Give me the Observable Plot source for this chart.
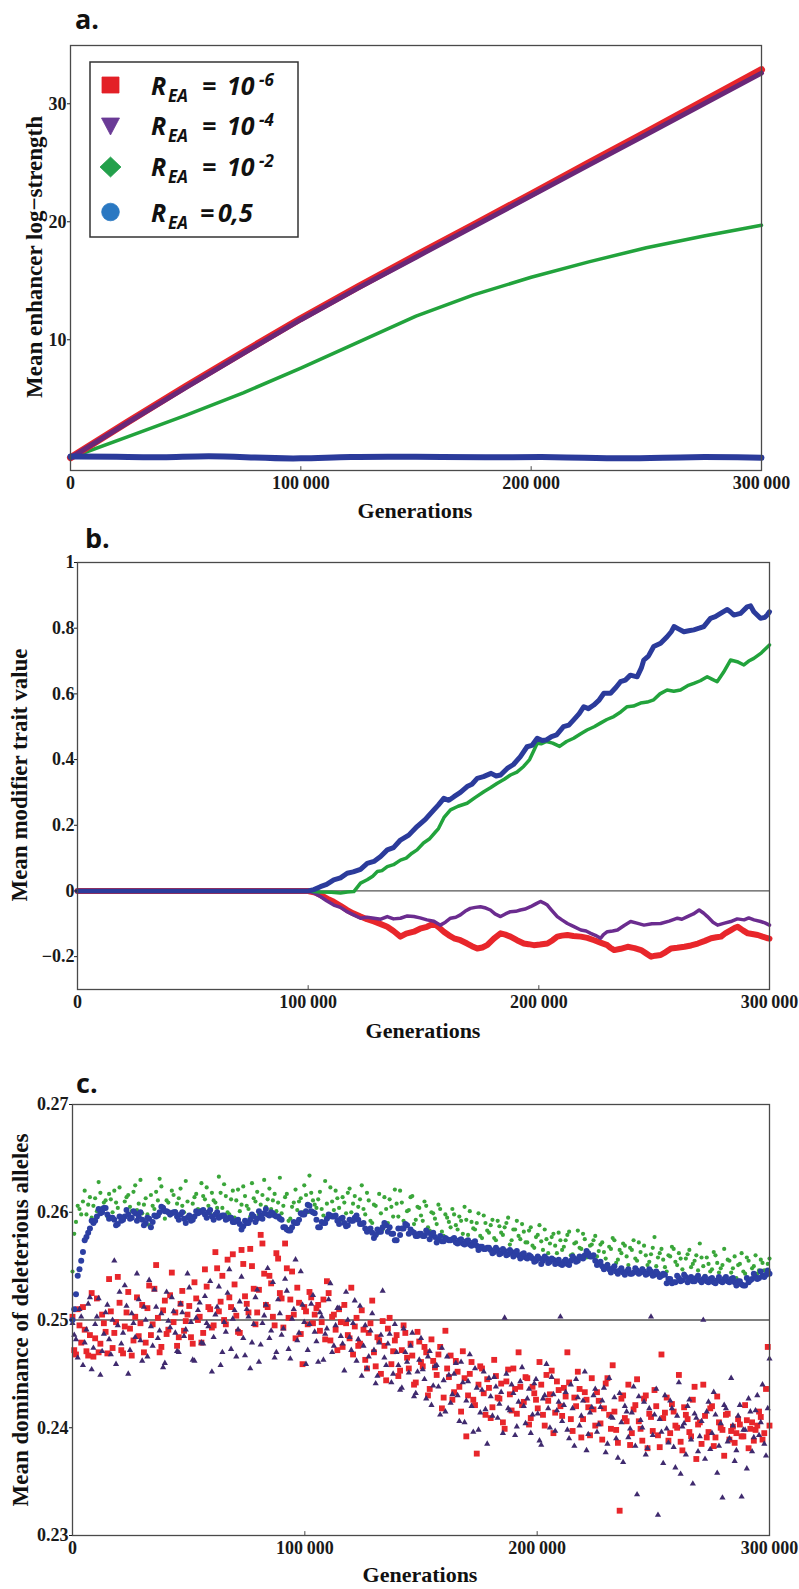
<!DOCTYPE html>
<html>
<head>
<meta charset="utf-8">
<script src="https://cdn.jsdelivr.net/npm/d3@7"></script>
<script src="https://cdn.jsdelivr.net/npm/@observablehq/plot@0.6"></script>
<style>
  body { margin: 0; background: #fff; }
  #page { position: relative; width: 799px; height: 1589px; overflow: hidden; background: #fff; }
  .panel { position: absolute; left: 0; }
  #overlay { position: absolute; left: 0; top: 0; pointer-events: none; }
</style>
</head>
<body>
<div id="page"></div>
<script>
// ---------- colours ----------
const RED = "#e8262b", PURPLE = "#6b2c8f", GREEN = "#22a33c", BLUE = "#2b3b9b";

// ---------- panel a: mean enhancer log-strength ----------
const genA = [0, 25000, 50000, 75000, 100000, 125000, 150000, 175000, 200000, 225000, 250000, 275000, 300000];
const strengthRed    = [0, 3.05, 6.05, 8.95, 11.8, 14.5, 17.15, 19.75, 22.35, 25.0, 27.6, 30.25, 32.9];
const strengthPurple = [0, 3.0, 5.95, 8.85, 11.7, 14.4, 17.0, 19.6, 22.2, 24.8, 27.4, 30.0, 32.6];
const strengthGreen  = [0, 1.8, 3.6, 5.5, 7.6, 9.8, 12.0, 13.8, 15.3, 16.6, 17.8, 18.8, 19.7];
const genABlue       = [0, 20000, 40000, 60000, 80000, 100000, 120000, 150000, 180000, 210000, 240000, 270000, 300000];
const strengthBlue   = [0.1, 0.1, 0.0, 0.2, 0.0, -0.1, 0.1, 0.1, 0.0, 0.1, -0.1, 0.1, 0.0];

// ---------- panel b: mean modifier trait value ----------
const genBBlue = [0,100000,102500,105300,108000,111100,114000,116900,119500,122700,125600,128500,131400,134300,137000,140000,143600,147200,150800,154500,156500,158800,161000,163200,166000,168900,171000,173300,176000,179300,181500,183400,186300,189000,192000,194900,197000,199300,201500,203300,205500,207700,210700,213000,215100,217500,219500,221500,223800,226000,228200,231100,233500,235400,237500,239700,242600,244500,245500,247500,249800,252800,255600,257500,258600,260500,262900,265000,267200,269500,271500,274400,276500,278800,281700,283000,284500,287400,290300,291800,293200,296100,298000,299000,300000];
const modBlue  = [0,0,0.004,0.013,0.020,0.034,0.040,0.054,0.058,0.066,0.084,0.090,0.105,0.125,0.132,0.155,0.170,0.196,0.218,0.247,0.262,0.282,0.276,0.287,0.300,0.318,0.325,0.343,0.348,0.358,0.350,0.353,0.373,0.385,0.409,0.439,0.443,0.465,0.458,0.460,0.470,0.475,0.500,0.505,0.521,0.540,0.561,0.555,0.566,0.580,0.602,0.602,0.620,0.637,0.642,0.657,0.652,0.680,0.703,0.715,0.744,0.754,0.774,0.790,0.805,0.798,0.789,0.792,0.795,0.800,0.805,0.830,0.835,0.845,0.857,0.850,0.840,0.845,0.865,0.868,0.850,0.830,0.833,0.840,0.850];

const genBGreen = [0,100000,105000,110000,114000,117000,119800,122700,125600,128000,130000,132000,134300,137000,140000,142500,145000,147200,150000,152500,155000,156500,159000,161700,165000,168900,172500,176300,179000,182000,185000,187700,190500,193400,196000,198000,199300,201000,203300,206000,209000,212000,215100,218000,220900,224000,226700,229500,232500,235500,238300,241000,244100,247000,249800,252500,255600,258500,261400,264500,267200,270000,273000,275000,277300,280000,283100,286000,288900,291000,293200,296500,300000];
const modGreen  = [0,0,-0.003,-0.004,-0.006,-0.003,-0.002,0.024,0.034,0.045,0.059,0.062,0.074,0.080,0.094,0.100,0.115,0.125,0.146,0.158,0.178,0.190,0.225,0.247,0.258,0.267,0.285,0.303,0.314,0.328,0.340,0.353,0.362,0.379,0.400,0.430,0.450,0.448,0.455,0.450,0.440,0.455,0.465,0.478,0.490,0.500,0.511,0.522,0.531,0.545,0.561,0.563,0.572,0.575,0.582,0.600,0.612,0.608,0.612,0.625,0.632,0.640,0.652,0.645,0.637,0.665,0.703,0.698,0.688,0.700,0.708,0.725,0.749];

const genBPurple = [0,100000,102500,105300,108000,111100,114000,116900,119500,122700,125500,128500,131500,134300,137000,140000,143000,145800,148500,151500,154500,157300,159500,161700,164000,166000,168000,170300,172500,174700,177000,179000,181000,183400,185500,187700,190000,192000,194000,196400,198500,200700,202000,203700,205500,208000,210000,212400,215000,218200,220500,222500,224500,226800,228000,229700,232000,234100,237000,239800,242500,245600,249000,252800,256500,260100,262000,264400,267000,269500,271500,273100,275500,277500,280500,283200,286000,289000,291000,293300,296200,298000,300000];
const modPurple  = [0,0,-0.006,-0.017,-0.030,-0.043,-0.050,-0.063,-0.072,-0.083,-0.080,-0.083,-0.086,-0.078,-0.085,-0.083,-0.076,-0.078,-0.082,-0.088,-0.092,-0.104,-0.095,-0.083,-0.080,-0.073,-0.062,-0.053,-0.050,-0.048,-0.052,-0.058,-0.070,-0.078,-0.070,-0.063,-0.062,-0.058,-0.055,-0.048,-0.040,-0.032,-0.036,-0.043,-0.058,-0.078,-0.088,-0.099,-0.108,-0.119,-0.122,-0.129,-0.135,-0.144,-0.133,-0.124,-0.122,-0.119,-0.105,-0.093,-0.098,-0.104,-0.100,-0.099,-0.092,-0.083,-0.086,-0.078,-0.070,-0.058,-0.068,-0.078,-0.095,-0.104,-0.098,-0.093,-0.085,-0.088,-0.082,-0.088,-0.093,-0.097,-0.104];

const genBRed = [0,100000,103000,106700,109000,111100,114000,116900,119500,122700,125500,128500,131500,134300,137000,140000,142500,145800,148500,151500,154500,156500,158800,161000,163200,166000,168900,171000,173300,175500,177600,180500,183400,185500,187700,190500,193500,195500,197800,200500,203700,206000,208000,210000,212400,215000,218200,221000,224000,227000,229700,231000,232700,235500,238500,241500,244300,246500,248700,250500,252800,255000,257300,260000,263100,266000,268900,272000,274700,277000,279000,281000,283300,285000,286200,288500,290600,292500,294900,297000,299300,300000];
const modRed  = [0,0,-0.005,-0.017,-0.026,-0.033,-0.045,-0.058,-0.068,-0.078,-0.086,-0.093,-0.101,-0.109,-0.122,-0.139,-0.130,-0.124,-0.115,-0.109,-0.099,-0.110,-0.124,-0.135,-0.144,-0.150,-0.160,-0.168,-0.175,-0.172,-0.165,-0.145,-0.129,-0.133,-0.139,-0.150,-0.160,-0.162,-0.165,-0.163,-0.160,-0.150,-0.139,-0.136,-0.134,-0.137,-0.139,-0.143,-0.150,-0.158,-0.165,-0.173,-0.180,-0.176,-0.170,-0.174,-0.180,-0.190,-0.200,-0.197,-0.195,-0.186,-0.175,-0.173,-0.170,-0.166,-0.160,-0.152,-0.144,-0.141,-0.139,-0.128,-0.119,-0.112,-0.109,-0.120,-0.129,-0.131,-0.134,-0.139,-0.144,-0.145];

// ---------- panel c: mean dominance of deleterious alleles ----------
// recorded every 1 500 generations from 0 (first run) and from 750 (second record)
const sampleStep = 1500;
const sampleOffset = 750;
const domBlue = [.2500,.2524,.2547,.2563,.2577,.2585,.2590,.2596,.2599,.2604,.2598,.2595,.2593,.2589,.2592,.2596,.2598,.2595,.2599,.2596,.2593,.2590,.2594,.2591,.2596,.2600,.2604,.2601,.2598,.2600,.2596,.2598,.2594,.2595,.2592,.2596,.2599,.2601,.2598,.2600,.2596,.2598,.2595,.2597,.2593,.2595,.2591,.2592,.2589,.2587,.2590,.2593,.2596,.2594,.2597,.2599,.2598,.2600,.2597,.2596,.2593,.2586,.2583,.2586,.2590,.2593,.2598,.2601,.2606,.2600,.2593,.2586,.2590,.2594,.2597,.2596,.2592,.2594,.2590,.2588,.2592,.2595,.2593,.2589,.2585,.2583,.2581,.2579,.2582,.2586,.2588,.2586,.2580,.2574,.2579,.2585,.2588,.2584,.2581,.2578,.2580,.2578,.2581,.2579,.2577,.2575,.2573,.2576,.2574,.2575,.2572,.2574,.2571,.2573,.2570,.2572,.2569,.2568,.2566,.2567,.2565,.2563,.2565,.2562,.2564,.2561,.2563,.2562,.2560,.2561,.2558,.2560,.2557,.2555,.2557,.2555,.2557,.2554,.2556,.2553,.2552,.2554,.2552,.2555,.2557,.2555,.2558,.2560,.2562,.2559,.2555,.2552,.2550,.2549,.2547,.2548,.2545,.2546,.2544,.2545,.2543,.2544,.2546,.2544,.2545,.2543,.2545,.2542,.2543,.2541,.2542,.2538,.2534,.2535,.2539,.2537,.2540,.2538,.2536,.2539,.2537,.2538,.2536,.2538,.2535,.2537,.2536,.2538,.2536,.2538,.2535,.2536,.2533,.2532,.2535,.2538,.2540,.2539,.2541,.2542,.2543];
const domBlue2 = [.2510,.2541,.2555,.2574,.2581,.2592,.2592,.2603,.2600,.2604,
  .2594,.2595,.2588,.2596,.2593,.2602,.2594,.2601,.2592,.2600,
  .2588,.2595,.2586,.2597,.2597,.2605,.2601,.2600,.2599,.2600,
  .2593,.2600,.2590,.2597,.2593,.2601,.2600,.2602,.2595,.2602,
  .2593,.2600,.2596,.2597,.2594,.2595,.2591,.2593,.2584,.2592,
  .2590,.2598,.2591,.2601,.2594,.2603,.2597,.2599,.2596,.2594,
  .2586,.2584,.2583,.2591,.2590,.2599,.2598,.2607,.2601,.2599,
  .2586,.2591,.2590,.2598,.2596,.2597,.2589,.2595,.2587,.2593,
  .2592,.2597,.2589,.2590,.2582,.2585,.2576,.2584,.2582,.2590,
  .2582,.2580,.2574,.2585,.2585,.2589,.2580,.2582,.2578,.2580,
  .2578,.2583,.2575,.2581,.2572,.2578,.2573,.2575,.2574,.2576,
  .2571,.2575,.2570,.2574,.2569,.2573,.2565,.2568,.2566,.2567,
  .2562,.2567,.2561,.2566,.2560,.2565,.2559,.2564,.2557,.2562,
  .2557,.2559,.2554,.2559,.2552,.2559,.2553,.2557,.2552,.2556,
  .2551,.2556,.2551,.2559,.2554,.2559,.2557,.2564,.2559,.2560,
  .2551,.2554,.2547,.2551,.2544,.2550,.2543,.2548,.2542,.2547,
  .2543,.2548,.2543,.2547,.2542,.2547,.2541,.2545,.2540,.2543,
  .2534,.2538,.2535,.2541,.2536,.2542,.2535,.2540,.2536,.2541,
  .2535,.2540,.2535,.2539,.2534,.2540,.2535,.2540,.2535,.2539,
  .2532,.2536,.2532,.2539,.2537,.2543,.2538,.2545,.2540,.2546];
const domGreen = [.2545,.2591,.2603,.2610,.2598,.2614,.2606,.2601,.2618,.2609,.2596,
  .2612,.2620,.2604,.2592,.2610,.2616,.2601,.2625,.2608,.2599,
  .2613,.2588,.2606,.2619,.2631,.2605,.2611,.2597,.2616,.2608,
  .2622,.2600,.2610,.2593,.2614,.2603,.2627,.2612,.2606,.2618,
  .2609,.2633,.2604,.2615,.2598,.2620,.2611,.2601,.2624,.2606,
  .2596,.2613,.2619,.2607,.2630,.2612,.2603,.2617,.2609,.2599,
  .2614,.2592,.2605,.2621,.2610,.2600,.2616,.2634,.2611,.2604,
  .2619,.2597,.2608,.2623,.2602,.2613,.2593,.2609,.2618,.2600,
  .2615,.2605,.2625,.2598,.2611,.2590,.2606,.2617,.2584,.2603,
  .2612,.2596,.2608,.2620,.2592,.2601,.2614,.2589,.2605,.2597,
  .2610,.2586,.2600,.2594,.2607,.2582,.2598,.2591,.2603,.2588,
  .2596,.2580,.2593,.2601,.2585,.2590,.2578,.2597,.2583,.2588,
  .2576,.2592,.2581,.2586,.2595,.2574,.2584,.2578,.2589,.2572,
  .2583,.2569,.2577,.2588,.2565,.2575,.2571,.2580,.2562,.2574,
  .2568,.2579,.2560,.2571,.2583,.2566,.2575,.2562,.2570,.2578,
  .2564,.2572,.2557,.2568,.2576,.2553,.2565,.2571,.2559,.2567,
  .2574,.2555,.2563,.2569,.2551,.2561,.2577,.2558,.2566,.2549,
  .2560,.2568,.2554,.2562,.2547,.2557,.2565,.2552,.2560,.2571,
  .2550,.2558,.2545,.2563,.2553,.2548,.2566,.2556,.2544,.2559,
  .2551,.2562,.2543,.2555,.2548,.2560,.2546,.2553,.2541,.2557];
const domGreen2 = [.2580,.2606,.2598,.2620,.2607,.2595,.2613,.2628,.2604,.2611,
  .2617,.2600,.2609,.2623,.2596,.2614,.2605,.2619,.2602,.2630,
  .2607,.2598,.2616,.2603,.2611,.2624,.2594,.2609,.2620,.2601,
  .2613,.2606,.2629,.2597,.2608,.2617,.2602,.2615,.2623,.2599,
  .2611,.2604,.2618,.2626,.2600,.2612,.2595,.2621,.2607,.2615,
  .2603,.2627,.2610,.2598,.2616,.2605,.2622,.2611,.2601,.2632,
  .2606,.2617,.2594,.2609,.2602,.2613,.2625,.2600,.2618,.2607,
  .2612,.2603,.2629,.2595,.2610,.2620,.2604,.2614,.2599,.2622,
  .2608,.2596,.2612,.2603,.2618,.2592,.2607,.2580,.2599,.2614,
  .2590,.2605,.2621,.2596,.2609,.2587,.2602,.2615,.2593,.2604,
  .2592,.2606,.2583,.2599,.2589,.2603,.2578,.2595,.2586,.2598,
  .2584,.2592,.2605,.2579,.2591,.2584,.2599,.2576,.2590,.2581,
  .2593,.2574,.2587,.2579,.2590,.2570,.2584,.2592,.2575,.2582,
  .2572,.2586,.2567,.2579,.2573,.2584,.2562,.2577,.2569,.2581,
  .2565,.2574,.2582,.2561,.2572,.2567,.2580,.2558,.2569,.2574,
  .2559,.2570,.2563,.2552,.2566,.2574,.2556,.2562,.2569,.2551,
  .2565,.2557,.2572,.2548,.2560,.2554,.2567,.2550,.2562,.2556,
  .2545,.2559,.2566,.2551,.2557,.2543,.2561,.2549,.2555,.2546,
  .2558,.2541,.2552,.2547,.2560,.2544,.2551,.2538,.2555,.2548,
  .2539,.2552,.2545,.2558,.2537,.2550,.2543,.2556,.2546,.2552];
const domRed = [.2503,.2468,.2495,.2512,.2471,.2486,.2466,.2520,.2478,.2497,.2469,
  .2508,.2488,.2540,.2472,.2494,.2526,.2467,.2503,.2485,.2514,
  .2479,.2532,.2496,.2551,.2470,.2509,.2487,.2523,.2498,.2476,
  .2515,.2490,.2505,.2484,.2535,.2500,.2479,.2547,.2512,.2493,
  .2563,.2508,.2541,.2496,.2521,.2561,.2504,.2488,.2552,.2515,
  .2566,.2529,.2507,.2579,.2543,.2512,.2534,.2495,.2557,.2520,
  .2571,.2502,.2545,.2483,.2516,.2459,.2508,.2526,.2497,.2511,
  .2490,.2519,.2536,.2481,.2505,.2472,.2498,.2514,.2486,.2530,
  .2494,.2476,.2509,.2463,.2488,.2518,.2457,.2481,.2499,.2444,
  .2502,.2471,.2486,.2453,.2495,.2465,.2478,.2440,.2489,.2461,
  .2475,.2430,.2482,.2456,.2468,.2418,.2490,.2447,.2426,.2462,
  .2438,.2471,.2392,.2450,.2426,.2376,.2457,.2432,.2445,.2409,
  .2463,.2428,.2441,.2399,.2454,.2416,.2436,.2470,.2421,.2447,
  .2403,.2438,.2426,.2461,.2412,.2449,.2431,.2395,.2443,.2420,
  .2437,.2470,.2408,.2428,.2452,.2391,.2433,.2419,.2446,.2402,
  .2425,.2389,.2441,.2412,.2458,.2398,.2323,.2430,.2406,.2384,
  .2417,.2445,.2399,.2427,.2381,.2410,.2435,.2393,.2468,.2414,
  .2388,.2422,.2402,.2449,.2379,.2412,.2396,.2426,.2371,.2405,
  .2440,.2391,.2418,.2383,.2429,.2400,.2374,.2413,.2397,.2386,
  .2408,.2392,.2421,.2381,.2405,.2398,.2415,.2389,.2436,.2402];
const domRed2 = [.2472,.2510,.2479,.2491,.2467,.2525,.2483,.2470,.2505,.2489,
  .2538,.2474,.2498,.2516,.2469,.2507,.2492,.2481,.2521,.2497,
  .2470,.2511,.2486,.2529,.2502,.2475,.2518,.2491,.2544,.2507,
  .2484,.2527,.2499,.2513,.2478,.2520,.2503,.2488,.2531,.2510,
  .2495,.2548,.2517,.2500,.2556,.2512,.2533,.2489,.2565,.2522,
  .2507,.2550,.2496,.2528,.2571,.2514,.2541,.2503,.2562,.2525,
  .2493,.2548,.2519,.2505,.2530,.2487,.2512,.2496,.2521,.2505,
  .2514,.2498,.2482,.2525,.2503,.2491,.2510,.2475,.2497,.2483,
  .2468,.2502,.2478,.2491,.2455,.2497,.2470,.2484,.2450,.2476,
  .2492,.2459,.2481,.2448,.2472,.2488,.2455,.2467,.2442,.2480,
  .2457,.2470,.2436,.2462,.2449,.2475,.2428,.2455,.2467,.2433,
  .2452,.2415,.2446,.2430,.2461,.2421,.2440,.2455,.2412,.2437,
  .2419,.2448,.2427,.2405,.2443,.2431,.2455,.2413,.2438,.2424,
  .2446,.2409,.2432,.2418,.2440,.2402,.2425,.2453,.2414,.2435,
  .2411,.2429,.2442,.2397,.2420,.2436,.2408,.2426,.2393,.2417,
  .2433,.2404,.2418,.2446,.2399,.2415,.2386,.2427,.2409,.2440,
  .2395,.2421,.2406,.2388,.2430,.2413,.2397,.2420,.2382,.2409,
  .2428,.2395,.2415,.2400,.2387,.2419,.2408,.2392,.2438,.2403,
  .2385,.2411,.2396,.2420,.2391,.2405,.2398,.2412,.2389,.2401,
  .2395,.2403,.2392,.2407,.2399,.2388,.2402,.2410,.2395,.2475];
const domPurple = [.2497,.2482,.2510,.2458,.2491,.2521,.2474,.2503,.2449,.2487,.2514,
  .2468,.2555,.2495,.2478,.2532,.2450,.2506,.2484,.2519,.2462,
  .2500,.2537,.2476,.2512,.2490,.2456,.2526,.2493,.2508,.2471,
  .2515,.2485,.2543,.2498,.2462,.2509,.2479,.2522,.2494,.2452,
  .2505,.2531,.2470,.2489,.2547,.2501,.2466,.2517,.2483,.2510,
  .2455,.2496,.2528,.2477,.2504,.2548,.2490,.2465,.2519,.2486,
  .2538,.2473,.2501,.2556,.2488,.2514,.2459,.2496,.2523,.2480,
  .2507,.2463,.2492,.2534,.2476,.2511,.2485,.2453,.2500,.2472,
  .2518,.2482,.2448,.2495,.2466,.2506,.2441,.2479,.2527,.2458,
  .2487,.2450,.2470,.2435,.2492,.2461,.2476,.2429,.2452,.2483,
  .2445,.2466,.2421,.2457,.2438,.2474,.2415,.2449,.2431,.2460,
  .2406,.2442,.2425,.2468,.2396,.2437,.2414,.2452,.2385,.2429,
  .2447,.2409,.2433,.2502,.2418,.2440,.2393,.2424,.2456,.2404,
  .2436,.2412,.2445,.2388,.2427,.2459,.2400,.2431,.2416,.2503,
  .2421,.2398,.2440,.2383,.2428,.2411,.2452,.2394,.2419,.2436,
  .2403,.2425,.2377,.2446,.2409,.2390,.2432,.2368,.2415,.2399,
  .2438,.2338,.2407,.2424,.2381,.2503,.2412,.2319,.2396,.2430,
  .2386,.2418,.2363,.2442,.2401,.2375,.2426,.2348,.2409,.2392,
  .2500,.2415,.2380,.2433,.2358,.2404,.2421,.2387,.2446,.2369,
  .2411,.2336,.2398,.2427,.2378,.2416,.2393,.2440,.2374,.2464];
const domPurple2 = [.2486,.2465,.2503,.2479,.2515,.2454,.2496,.2520,.2471,.2507,
  .2482,.2500,.2459,.2526,.2488,.2513,.2472,.2497,.2543,.2481,
  .2512,.2466,.2494,.2528,.2483,.2506,.2460,.2499,.2521,.2488,
  .2470,.2507,.2491,.2530,.2463,.2502,.2516,.2478,.2497,.2536,
  .2484,.2512,.2458,.2498,.2525,.2473,.2509,.2491,.2540,.2467,
  .2503,.2479,.2521,.2461,.2497,.2514,.2483,.2535,.2470,.2506,
  .2492,.2527,.2464,.2510,.2481,.2545,.2498,.2472,.2515,.2489,
  .2461,.2503,.2487,.2519,.2470,.2495,.2511,.2478,.2526,.2484,
  .2497,.2462,.2513,.2476,.2455,.2490,.2472,.2448,.2486,.2465,
  .2478,.2442,.2496,.2458,.2437,.2470,.2451,.2488,.2432,.2463,
  .2454,.2427,.2471,.2439,.2458,.2412,.2444,.2466,.2423,.2450,
  .2430,.2461,.2405,.2443,.2420,.2455,.2398,.2435,.2417,.2446,
  .2411,.2438,.2422,.2395,.2450,.2416,.2432,.2401,.2443,.2420,
  .2427,.2395,.2441,.2413,.2384,.2430,.2418,.2447,.2397,.2424,
  .2406,.2433,.2390,.2418,.2445,.2402,.2425,.2379,.2414,.2430,
  .2396,.2419,.2437,.2385,.2410,.2428,.2372,.2405,.2420,.2391,
  .2414,.2383,.2429,.2400,.2375,.2418,.2393,.2436,.2408,.2367,
  .2399,.2425,.2382,.2411,.2357,.2404,.2420,.2389,.2413,.2378,
  .2406,.2371,.2424,.2395,.2412,.2383,.2335,.2418,.2390,.2402,
  .2379,.2421,.2398,.2362,.2415,.2391,.2430,.2405,.2385,.2418];

// ---------- tick labels ----------
const genTicks = [0, 100000, 200000, 300000];
const genTickLabels = ["0", "100\u2009000", "200\u2009000", "300\u2009000"];
const strengthTicks = [10, 20, 30];
const modTicks = [-0.2, 0, 0.2, 0.4, 0.6, 0.8, 1];
const modTickLabels = ["\u22120.2", "0", "0.2", "0.4", "0.6", "0.8", "1"];
const domTicks = [0.23, 0.24, 0.25, 0.26, 0.27];

// ---------- helpers ----------
const pairs = (xs, ys) => xs.map((x, i) => ({x, y: ys[i]}));
const sampled = (ys, offset = 0) => ys.map((y, i) => ({x: offset + i * sampleStep, y}));
const genFormat = d => genTickLabels[genTicks.indexOf(d)];
const serif = "'Liberation Serif', 'Times New Roman', serif";
const baseStyle = {fontFamily: serif, fontWeight: "bold", fontSize: "18px", color: "#1a1a1a", background: "transparent", overflow: "visible"};
const frameStroke = "#4a4a4a";

function inwardXTicks(yDomain) {
  const len = (yDomain[1] - yDomain[0]) * 0.009;
  return Plot.ruleX([100000, 200000], {y1: yDomain[0], y2: yDomain[0] + len, stroke: frameStroke, strokeWidth: 1});
}

const page = document.getElementById("page");
function place(svg, top) {
  const d = document.createElement("div");
  d.className = "panel";
  d.style.top = top + "px";
  d.appendChild(svg);
  page.appendChild(d);
}

// ---------- panel a ----------
const yA = [-1.08, 34.94];
place(Plot.plot({
  width: 799, height: 530,
  marginTop: 45, marginBottom: 60, marginLeft: 70, marginRight: 38,
  x: {domain: [0, 300000]},
  y: {domain: yA},
  style: baseStyle,
  marks: [
    Plot.line(pairs(genA, strengthGreen), {x: "x", y: "y", stroke: GREEN, strokeWidth: 3.5}),
    Plot.line(pairs(genA, strengthRed), {x: "x", y: "y", stroke: RED, strokeWidth: 7}),
    Plot.line(pairs(genA, strengthPurple), {x: "x", y: "y", stroke: "#6a2778", strokeWidth: 5}),
    Plot.line(pairs(genABlue, strengthBlue), {x: "x", y: "y", stroke: BLUE, strokeWidth: 6, curve: "basis"}),
    Plot.frame({stroke: frameStroke, strokeWidth: 1.3}),
    inwardXTicks(yA),
    Plot.axisX({ticks: genTicks, tickFormat: genFormat, tickSize: 0, tickPadding: 6, label: null}),
    Plot.axisY({ticks: strengthTicks, tickSize: 3, tickPadding: 1, label: null})
  ]
}), 0);

// ---------- panel b ----------
const yB = [-0.3, 1];
place(Plot.plot({
  width: 799, height: 530,
  marginTop: 32, marginBottom: 71, marginLeft: 77, marginRight: 30,
  x: {domain: [0, 300000]},
  y: {domain: yB},
  style: baseStyle,
  marks: [
    Plot.ruleY([0], {stroke: "#555", strokeWidth: 1.2}),
    Plot.line(pairs(genBRed, modRed), {x: "x", y: "y", stroke: RED, strokeWidth: 6}),
    Plot.line(pairs(genBPurple, modPurple), {x: "x", y: "y", stroke: PURPLE, strokeWidth: 3.5}),
    Plot.line(pairs(genBGreen, modGreen), {x: "x", y: "y", stroke: GREEN, strokeWidth: 3.5}),
    Plot.line(pairs(genBBlue, modBlue), {x: "x", y: "y", stroke: BLUE, strokeWidth: 5}),
    Plot.frame({stroke: frameStroke, strokeWidth: 1.3}),
    inwardXTicks(yB),
    Plot.axisX({ticks: genTicks, tickFormat: genFormat, tickSize: 0, tickPadding: 6, label: null}),
    Plot.axisY({ticks: modTicks, tickFormat: d => modTickLabels[modTicks.indexOf(d)], tickSize: 3, tickPadding: 0, label: null})
  ]
}), 530);

// ---------- panel c ----------
const yC = [0.23, 0.27];
const redPts = sampled(domRed).concat(sampled(domRed2, sampleOffset));
const purplePts = sampled(domPurple).concat(sampled(domPurple2, sampleOffset));
const greenPts = sampled(domGreen).concat(sampled(domGreen2, sampleOffset));
const bluePts = sampled(domBlue).concat(sampled(domBlue2, sampleOffset));
place(Plot.plot({
  width: 799, height: 529,
  marginTop: 44, marginBottom: 54, marginLeft: 72, marginRight: 30,
  x: {domain: [0, 300000]},
  y: {domain: yC},
  style: baseStyle,
  marks: [
    Plot.ruleY([0.25], {stroke: "#555", strokeWidth: 1.3}),
    Plot.dot(redPts, {x: "x", y: "y", symbol: "square", r: 3.3, fill: RED, stroke: null}),
    Plot.dot(purplePts, {x: "x", y: "y", symbol: "triangle", r: 2.3, fill: "#3f2a6e", stroke: null}),
    Plot.dot(greenPts, {x: "x", y: "y", r: 2.1, fill: "#3aa63a", stroke: null}),
    Plot.dot(bluePts, {x: "x", y: "y", r: 3, fill: "#2c3fa3", stroke: null}),
    Plot.frame({stroke: frameStroke, strokeWidth: 1.3}),
    inwardXTicks(yC),
    Plot.axisX({ticks: genTicks, tickFormat: genFormat, tickSize: 0, tickPadding: 6, label: null}),
    Plot.axisY({ticks: domTicks, tickFormat: d3.format(".2f"), tickSize: 3, tickPadding: 1, label: null})
  ]
}), 1060);

// ---------- panel letters, axis titles and legend ----------
const ov = d3.select(page).append("svg")
  .attr("id", "overlay").attr("width", 799).attr("height", 1589);

const letters = [
  {t: "a.", x: 75, y: 29},
  {t: "b.", x: 85, y: 548},
  {t: "c.", x: 76, y: 1093}
];
ov.selectAll("text.letter").data(letters).join("text")
  .attr("class", "letter")
  .attr("x", d => d.x).attr("y", d => d.y)
  .attr("font-family", "'Open Sans', sans-serif").attr("font-weight", 700).attr("font-size", 27)
  .attr("fill", "#111").text(d => d.t);

const xTitles = [{x: 415, y: 518}, {x: 423, y: 1038}, {x: 420, y: 1582}];
ov.selectAll("text.xt").data(xTitles).join("text")
  .attr("class", "xt")
  .attr("x", d => d.x).attr("y", d => d.y)
  .attr("text-anchor", "middle")
  .attr("font-family", serif).attr("font-weight", 700).attr("font-size", 22)
  .attr("fill", "#111").text("Generations");

const yTitles = [
  {t: "Mean enhancer log\u2212strength", x: 42, y: 257},
  {t: "Mean modifier trait value", x: 27, y: 775},
  {t: "Mean dominance of deleterious alleles", x: 28, y: 1320}
];
ov.selectAll("text.yt").data(yTitles).join("text")
  .attr("class", "yt")
  .attr("transform", d => `translate(${d.x},${d.y}) rotate(-90)`)
  .attr("text-anchor", "middle")
  .attr("font-family", serif).attr("font-weight", 700).attr("font-size", 23)
  .attr("fill", "#111").text(d => d.t);

// legend of panel a
const legendRows = [
  {sym: "square",   color: "#e32026", base: "10", exp: "-6", cy: 85,  by: 95},
  {sym: "triangle", color: "#6a3a96", base: "10", exp: "-4", cy: 126, by: 135},
  {sym: "diamond",  color: "#23a04b", base: "10", exp: "-2", cy: 167, by: 176},
  {sym: "circle",   color: "#2a78c2", base: "0,5", exp: "",  cy: 212, by: 222}
];
const lg = ov.append("g");
lg.append("rect").attr("x", 90).attr("y", 62).attr("width", 208).attr("height", 175)
  .attr("fill", "#fff").attr("stroke", "#333").attr("stroke-width", 1.5);
const symPath = {
  square: "M-8.5,-8 h17 v16 h-17 Z",
  triangle: "M-9,-8 L9,-8 L0,9 Z",
  diamond: "M0,-10 L10.5,0 L0,10 L-10.5,0 Z",
  circle: "M-8.8,0 A8.8,8.8 0 1,0 8.8,0 A8.8,8.8 0 1,0 -8.8,0 Z"
};
const sans = "'Open Sans', sans-serif";
legendRows.forEach(r => {
  lg.append("path").attr("d", symPath[r.sym]).attr("transform", `translate(110.5,${r.cy})`)
    .attr("fill", r.color).attr("stroke", r.color).attr("stroke-width", 0.8).attr("stroke-linejoin", "round");
  const txt = (x, y, s, size) => lg.append("text").attr("x", x).attr("y", y)
    .attr("font-family", sans).attr("font-style", "italic").attr("font-weight", 700)
    .attr("font-size", size).attr("fill", "#111").text(s);
  txt(151, r.by, "R", 25);
  txt(168, r.by + 7, "EA", 17);
  txt(r.exp ? 202 : 200, r.by, "=", 25);
  txt(r.exp ? 227 : 218, r.by, r.base, 25);
  if (r.exp) txt(259, r.by - 9, r.exp, 17);
});
</script>
</body>
</html>
